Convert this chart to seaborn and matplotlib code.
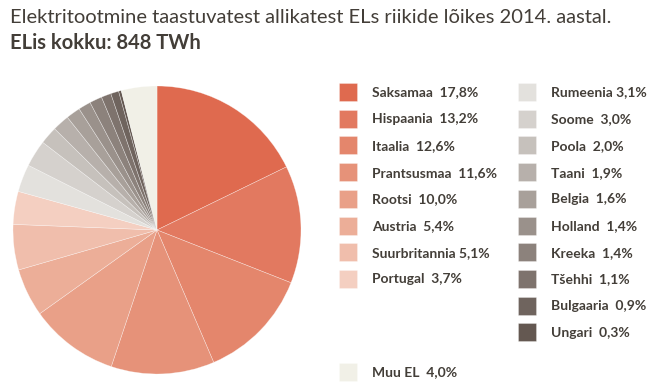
import matplotlib
matplotlib.use('Agg')
import matplotlib.pyplot as plt
import seaborn as sns

# data
countries = ['Saksamaa', 'Hispaania', 'Itaalia', 'Prantsusmaa', 'Rootsi', 'Austria',
             'Suurbritannia', 'Portugal', 'Rumeenia', 'Soome', 'Poola', 'Taani',
             'Belgia', 'Holland', 'Kreeka', 'Tšehhi', 'Bulgaaria', 'Ungari', 'Muu EL']
shares = [17.8, 13.2, 12.6, 11.6, 10.0, 5.4, 5.1, 3.7, 3.1, 3.0, 2.0, 1.9,
          1.6, 1.4, 1.4, 1.1, 0.9, 0.3, 4.0]
colors = ['#DF6A4F', '#E27960', '#E4866C', '#E69279', '#E9A088', '#ECAE98',
          '#F0BEAC', '#F4CFC1', '#E3E1DD', '#D5D1CD', '#C6C1BC', '#B7B0AB',
          '#A8A09A', '#9A918B', '#8C827C', '#7E736D', '#6F645E', '#645851', '#F1F0E7']
title = 'Elektritootmine taastuvatest allikatest ELs riikide lõikes 2014. aastal.'
subtitle = 'ELis kokku: 848 TWh'

sns.set_theme(style='white')
plt.rcParams['font.family'] = ['Lato', 'DejaVu Sans']
txt_color = '#433E38'

W, H = 650, 386
fig = plt.figure(figsize=(W / 100, H / 100), dpi=100)
fig.patch.set_facecolor('white')

# pie axes, centre ~ (157, 230) px, radius ~ 144 px
cx, cy, r = 157, 230, 144
ax = fig.add_axes([(cx - r) / W, (H - cy - r) / H, 2 * r / W, 2 * r / H])
wedges, _ = ax.pie(shares, colors=colors, startangle=90, counterclock=False,
                   wedgeprops=dict(linewidth=0.4, edgecolor='#ffffff80'))
ax.set_xlim(-1, 1)
ax.set_ylim(-1, 1)
ax.set_aspect('equal')
ax.axis('off')

labels = [f'{c}  {str(v).replace(".", ",")}%' for c, v in zip(countries, shares)]
labels[6] = 'Suurbritannia 5,1%'
labels[8] = 'Rumeenia 3,1%'

# swatch 18 px square, rows 26.7 px apart
fs = 10
fpx = fs * 100 / 72
hh = (18 / fpx - 0.245) / 0.65
lsp = (26.7 - 18) / fpx
leg_kw = dict(loc='upper left', frameon=False, handlelength=18 / fpx,
              handleheight=hh, labelspacing=lsp, handletextpad=15 / fpx,
              borderpad=0, borderaxespad=0,
              prop=dict(family=['Lato', 'DejaVu Sans'], weight='bold', size=fs))
groups = [(0, 8, 339, 83), (8, 18, 518, 83), (18, 19, 339, 363)]
for a, b, x0, y0 in groups:
    leg = fig.legend(wedges[a:b], labels[a:b],
                     bbox_to_anchor=(x0 / W, 1 - y0 / H), **leg_kw)
    for t in leg.get_texts():
        t.set_color(txt_color)

fig.text(10 / W, 1 - 9 / H, title, ha='left', va='top', fontsize=14.5, color=txt_color)
fig.text(10 / W, 1 - 33 / H, subtitle, ha='left', va='top', fontsize=14.5,
         fontweight='bold', color=txt_color)

fig.savefig('out.png', dpi=100)
